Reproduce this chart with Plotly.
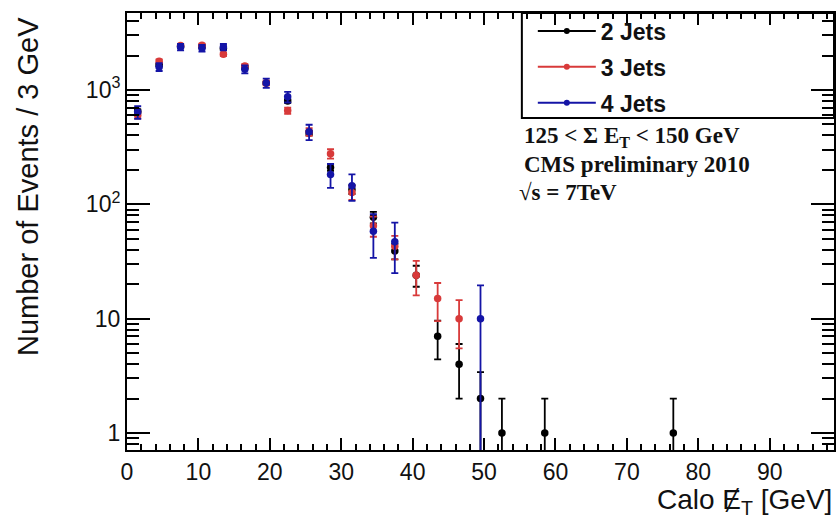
import plotly.graph_objects as go

# ---- data ----
x_2jets = [1.5, 4.5, 7.5, 10.5, 13.5, 16.5, 19.5, 22.5, 25.5, 28.5, 31.5, 34.5, 37.5,
           40.5, 43.5, 46.5, 49.5, 52.5, 58.5, 76.5]
y_2jets = [650, 1650, 2400, 2400, 2300, 1580, 1150, 800, 420, 210, 135, 77, 39,
           24, 7, 4, 2, 1, 1, 1]
e_2jets_hi = [25, 41, 49, 49, 48, 40, 34, 28, 20, 14, 12, 9, 6, 5, 2.6, 2, 1.4, 1, 1, 1]
e_2jets_lo = [25, 41, 49, 49, 48, 40, 34, 28, 20, 14, 12, 9, 6, 5, 2.6, 2, 1.4, 0.999, 0.999, 0.999]

x_3jets = [1.5, 4.5, 7.5, 10.5, 13.5, 16.5, 19.5, 22.5, 25.5, 28.5, 31.5, 34.5, 37.5,
           40.5, 43.5, 46.5]
y_3jets = [600, 1780, 2450, 2460, 2050, 1620, 1150, 660, 430, 277, 127, 65, 43, 24, 15, 10]
e_3jets = [39, 67, 78, 78, 72, 64, 54, 41, 33, 26, 18, 13, 10, 8, 5.5, 4.5]

x_4jets = [1.5, 4.5, 7.5, 10.5, 13.5, 16.5, 19.5, 22.5, 25.5, 28.5, 31.5, 34.5, 37.5, 49.5]
y_4jets = [640, 1590, 2370, 2320, 2370, 1520, 1150, 870, 430, 182, 145, 58, 47, 10]
e_4jets_hi = [80, 126, 154, 152, 154, 123, 107, 93, 66, 43, 38, 24, 22, 9.5]
e_4jets_lo = [80, 126, 154, 152, 154, 123, 107, 93, 66, 43, 38, 24, 22, 9.99]

series_names = ["2 Jets", "3 Jets", "4 Jets"]
colors = ["#000000", "#d83a3a", "#1414a6"]

y_tickvals = [1, 10, 100, 1000]
y_ticktext = ["1", "10", "10<sup>2</sup>", "10<sup>3</sup>"]
y_minor = [0.8, 0.9, 2, 3, 4, 5, 6, 7, 8, 9, 20, 30, 40, 50, 60, 70, 80, 90,
           200, 300, 400, 500, 600, 700, 800, 900, 2000, 3000, 4000]
x_tickvals = [0, 10, 20, 30, 40, 50, 60, 70, 80, 90]

fig = go.Figure()

data = [
    (x_2jets, y_2jets, e_2jets_hi, e_2jets_lo),
    (x_3jets, y_3jets, e_3jets, e_3jets),
    (x_4jets, y_4jets, e_4jets_hi, e_4jets_lo),
]
for (xs, ys, eh, el), name, c in zip(data, series_names, colors):
    fig.add_trace(go.Scatter(
        x=xs, y=ys, mode="markers", name=name, showlegend=False,
        marker=dict(color=c, size=7.5),
        error_y=dict(type="data", array=eh, arrayminus=el, symmetric=False,
                     color=c, thickness=1.8, width=3.5),
    ))

# legend entries (line + marker)
for i, (name, c) in enumerate(zip(series_names, colors)):
    fig.add_trace(go.Scatter(
        x=[None], y=[None], mode="lines+markers", name=name, legendgroup=name,
        line=dict(color=c, width=2), marker=dict(color=c, size=6),
    ))

font_sans = "Liberation Sans, Arial, sans-serif"
font_serif = "Liberation Serif, Times New Roman, serif"

H = 437.0
def py(pix):
    return (450 - pix) / H

fig.update_layout(
    width=837, height=519,
    margin=dict(l=127, r=1, t=13, b=69),
    paper_bgcolor="white", plot_bgcolor="white",
    font=dict(family=font_sans, color="#111111"),
    showlegend=True,
    legend=dict(
        x=0.574, y=1.008, xanchor="left", yanchor="top",
        bgcolor="rgba(0,0,0,0)", borderwidth=0,
        font=dict(family=font_sans, size=23, color="#111111", weight="bold"),
        itemwidth=58, tracegroupgap=3, traceorder="grouped",
    ),
    shapes=[
        dict(type="rect", xref="paper", yref="paper", x0=0.5585, x1=1.0,
             y0=py(118), y1=1.0, line=dict(color="black", width=2),
             fillcolor="rgba(0,0,0,0)", layer="above"),
    ],
    xaxis=dict(
        range=[0, 99], showgrid=False, zeroline=False,
        showline=True, linecolor="black", linewidth=2, mirror="allticks",
        ticks="inside", ticklen=12, tickwidth=2, tickcolor="black",
        tickvals=x_tickvals,
        tickfont=dict(size=23, family=font_sans, color="#111111"),
        minor=dict(ticks="inside", ticklen=6, tickwidth=2, tickcolor="black",
                   dtick=2, showgrid=False),
    ),
    yaxis=dict(
        type="log", range=[-0.149, 3.673], showgrid=False, zeroline=False,
        showline=True, linecolor="black", linewidth=2, mirror="allticks",
        ticks="inside", ticklen=23, tickwidth=2, tickcolor="black",
        tickvals=y_tickvals, ticktext=y_ticktext,
        tickfont=dict(size=23, family=font_sans, color="#111111"),
        minor=dict(ticks="inside", ticklen=12, tickwidth=2, tickcolor="black",
                   tickvals=y_minor, showgrid=False),
    ),
    annotations=[
        dict(text="Number of Events / 3 GeV", xref="paper", yref="paper",
             x=-0.141, y=0.995, xanchor="center", yanchor="top", textangle=-90,
             showarrow=False, font=dict(family=font_sans, size=29, color="#111111")),
        dict(text="Calo \u0246<sub>T</sub> [GeV]", xref="paper", yref="paper",
             x=1, y=py(501), xanchor="right", yanchor="middle",
             showarrow=False, font=dict(family=font_sans, size=28, color="#111111")),
        dict(text="<b>125 < \u03a3 E<sub>T</sub> < 150 GeV</b>", xref="paper", yref="paper",
             x=0.5585, y=py(137), xanchor="left", yanchor="middle",
             showarrow=False, font=dict(family=font_serif, size=23, color="#111111")),
        dict(text="<b>CMS preliminary 2010</b>", xref="paper", yref="paper",
             x=0.5585, y=py(164), xanchor="left", yanchor="middle",
             showarrow=False, font=dict(family=font_serif, size=23, color="#111111")),
        dict(text="<b>\u221as = 7TeV</b>", xref="paper", yref="paper",
             x=0.552, y=py(192), xanchor="left", yanchor="middle",
             showarrow=False, font=dict(family=font_serif, size=23, color="#111111")),
    ],
)

fig.write_html("out.html")
